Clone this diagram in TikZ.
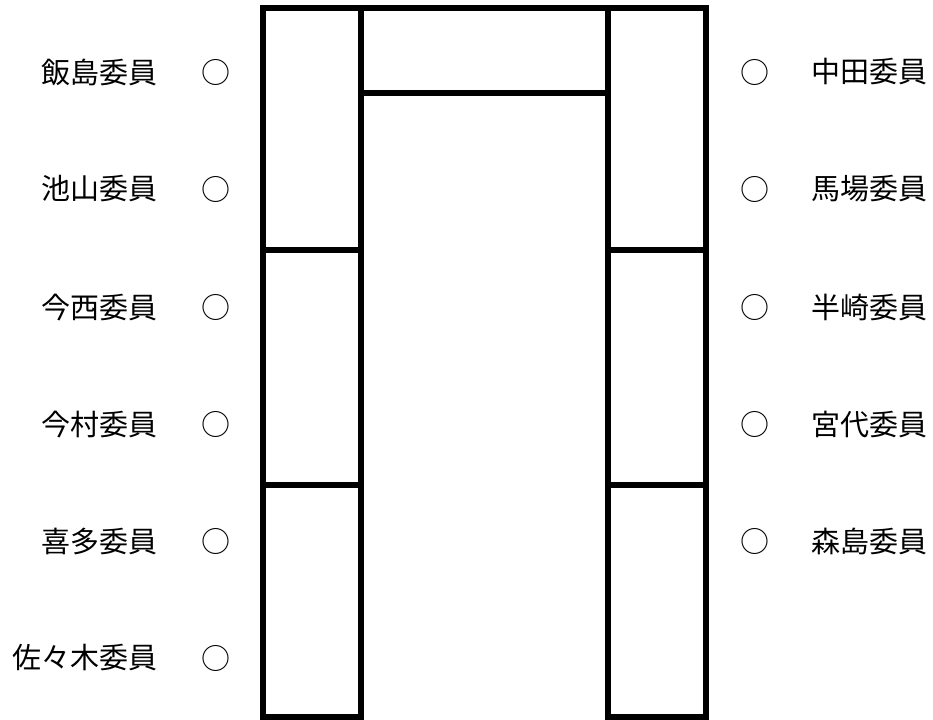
\documentclass[tikz,border=0pt]{standalone}
\usepackage{fontspec}
\newfontfamily\jpfont{Noto Sans CJK JP}
\usepackage{tikz}

\tikzset{
    desk/.style={line width=3.4pt, miter limit=10},
    member/.style={font=\jpfont\fontsize{16.5pt}{18pt}\selectfont, inner sep=0pt},
    seat/.style={font=\jpfont\fontsize{16.5pt}{18pt}\selectfont, inner sep=0pt}
}

\begin{document}
\begin{tikzpicture}[x=0.02cm, y=-0.02cm]
            \useasboundingbox (0,0) rectangle (933,720);

            % tables
            \draw[desk] (263,8) rectangle (361,717);
            \draw[desk] (608,8) rectangle (706,717);
            \draw[desk] (361,8) -- (608,8);
            \draw[desk] (361,93) -- (608,93);
            \draw[desk] (263,250) -- (361,250);
            \draw[desk] (263,485) -- (361,485);
            \draw[desk] (608,250) -- (706,250);
            \draw[desk] (608,485) -- (706,485);

            % left side
            \node[member, anchor=east] (iijima) at (158,72) {飯島委員};
            \node[member, anchor=east] (ikeyama) at (158,189) {池山委員};
            \node[member, anchor=east] (imanishi) at (158,307) {今西委員};
            \node[member, anchor=east] (imamura) at (158,424) {今村委員};
            \node[member, anchor=east] (kita) at (158,541) {喜多委員};
            \node[member, anchor=east] (sasaki) at (158,658) {佐々木委員};

            \node[seat] (s1) at (215.5,72) {○};
            \node[seat] (s2) at (215.5,189) {○};
            \node[seat] (s3) at (215.5,307) {○};
            \node[seat] (s4) at (215.5,424) {○};
            \node[seat] (s5) at (215.5,541) {○};
            \node[seat] (s6) at (215.5,658) {○};

            % right side
            \node[seat] (t1) at (755,72) {○};
            \node[seat] (t2) at (755,189) {○};
            \node[seat] (t3) at (755,307) {○};
            \node[seat] (t4) at (755,424) {○};
            \node[seat] (t5) at (755,541) {○};

            \node[member, anchor=west] (nakata) at (811,72) {中田委員};
            \node[member, anchor=west] (baba) at (811,189) {馬場委員};
            \node[member, anchor=west] (hanzaki) at (811,307) {半崎委員};
            \node[member, anchor=west] (miyashiro) at (811,424) {宮代委員};
            \node[member, anchor=west] (morishima) at (811,541) {森島委員};
        \end{tikzpicture}
\end{document}
